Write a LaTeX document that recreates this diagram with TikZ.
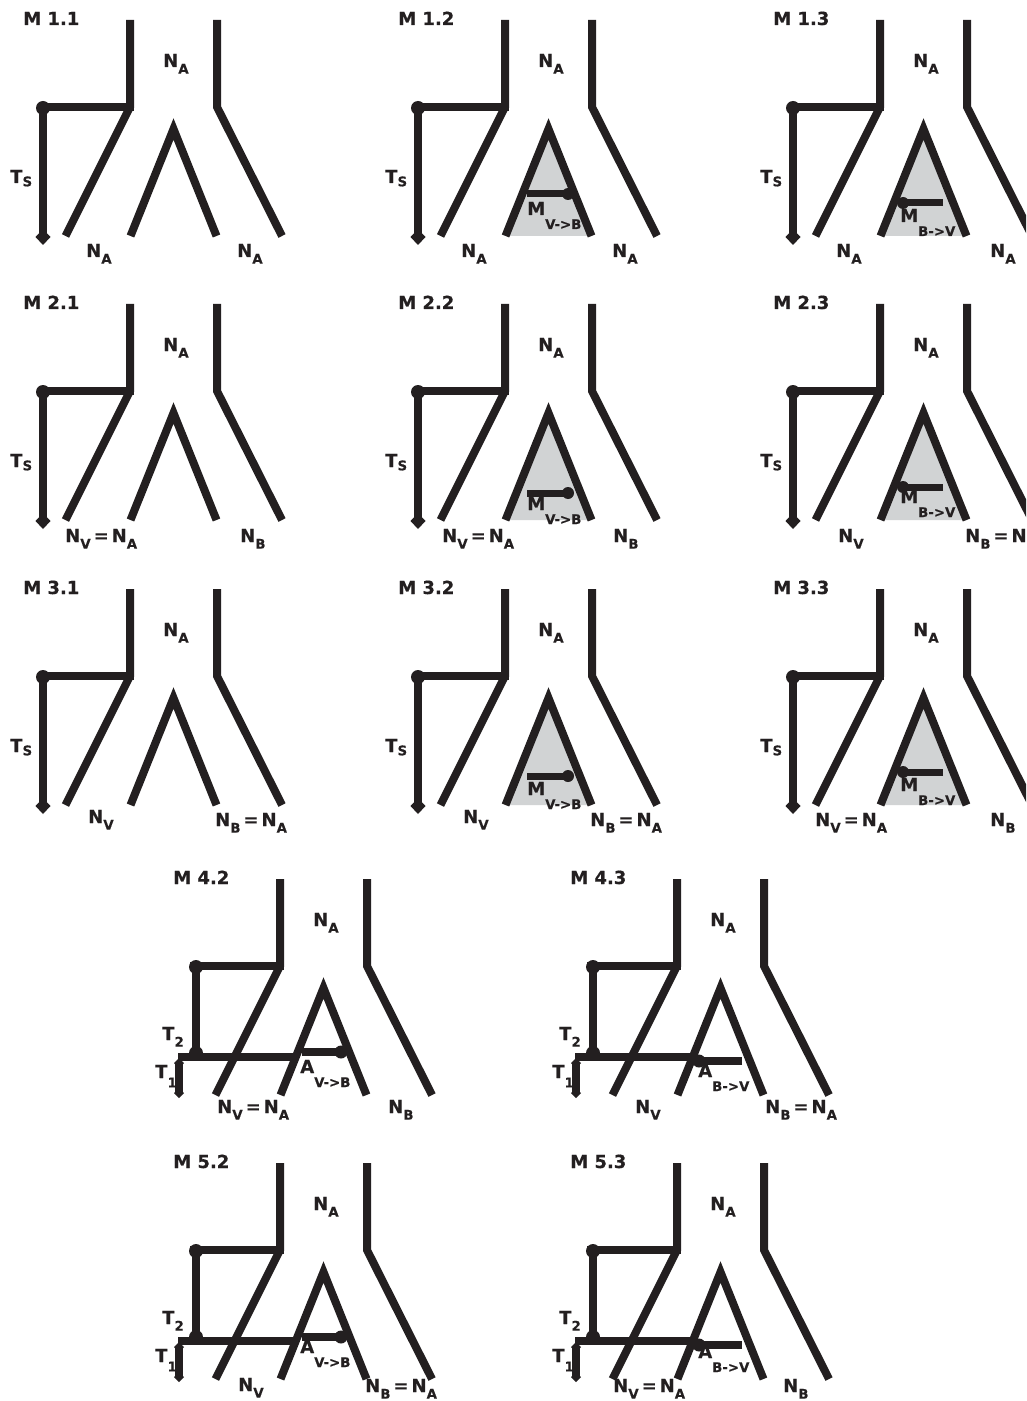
\documentclass[tikz,border=0pt]{standalone}
\usepackage{fontspec}
\setmainfont{DejaVu Sans}[BoldFeatures={FakeBold=0.4}]
\definecolor{shadegray}{RGB}{209,211,212}
\definecolor{ink}{RGB}{35,31,32}
\newcommand\sdown[2]{\raisebox{-#1}{\fontsize{10pt}{10pt}\selectfont #2}}
\tikzset{
  br/.style={line width=6pt, draw=ink, line cap=butt, line join=miter},
  mig/.style={line width=5.25pt, draw=ink, line cap=butt},
  lab/.style={font=\fontsize{13.5pt}{16pt}\selectfont\bfseries, inner sep=0pt, anchor=base west, text=ink},
}
% common skeleton of a panel
\newcommand\Skel[2]{%
  \node[lab] (#1-title) at (23,25) {#2};
  \node[lab] (#1-top) at (163,67) {N\sdown{5pt}{A}};
  \coordinate (#1-l0) at (130,20);
  \coordinate (#1-l1) at (130,107);
  \coordinate (#1-l2) at (65.5,236);
  \coordinate (#1-r0) at (217,20);
  \coordinate (#1-r1) at (217,107);
  \coordinate (#1-r2) at (282,236);
  \coordinate (#1-h0) at (40,107);
  \coordinate (#1-h1) at (134,107);
  \draw[br] (#1-l0) -- (#1-l1) -- (#1-l2);
  \draw[br] (#1-r0) -- (#1-r1) -- (#1-r2);
  \draw[br] (#1-h0) -- (#1-h1);
}
\newcommand\ShadeTri{\fill[shadegray] (130.5,236) -- (173.5,129) -- (216.5,236) -- cycle;}
\newcommand\InnerTri[1]{%
  \coordinate (#1-i0) at (130.5,236);
  \coordinate (#1-i1) at (173.5,129);
  \coordinate (#1-i2) at (216.5,236);
  \draw[br] (#1-i0) -- (#1-i1) -- (#1-i2);
}
\newcommand\TsBar[1]{%
  \coordinate (#1-ts1) at (43,108);
  \coordinate (#1-ts2) at (43,236);
  \draw[br] (#1-ts1) -- (#1-ts2);
  \fill[ink] (#1-ts1) circle (7);
  \fill[ink] (43,229) -- (50.5,237) -- (43,245) -- (35.5,237) -- cycle;
  \node[lab] (#1-ts) at (10,183) {T\sdown{2.5pt}{S}};
}
% migration arrows in shaded triangle
\newcommand\MigVB[3]{%
  \coordinate (#1-m1) at (152,#2);
  \coordinate (#1-m2) at (193,#2);
  \draw[mig] (#1-m1) -- (#1-m2);
  \fill[ink] (#1-m2) circle (6);
  \node[lab] (#1-ml) at (152,#3) {M\sdown{10.5pt}{V->B}};
}
\newcommand\MigBV[3]{%
  \coordinate (#1-m1) at (193,#2);
  \coordinate (#1-m2) at (153,#2);
  \draw[mig] (#1-m1) -- (#1-m2);
  \fill[ink] (#1-m2) circle (6);
  \node[lab] (#1-ml) at (150,#3) {M\sdown{10.5pt}{B->V}};
}
% two-time bars (models 4 and 5)
\newcommand\TBars[1]{%
  \coordinate (#1-g0) at (28,198);
  \coordinate (#1-g1) at (146,198);
  \draw[br] (#1-g0) -- (#1-g1);
  \coordinate (#1-t2a) at (46,108);
  \coordinate (#1-t2b) at (46,194);
  \draw[br] (#1-t2a) -- (#1-t2b);
  \fill[ink] (#1-t2a) circle (7);
  \fill[ink] (#1-t2b) circle (7);
  \coordinate (#1-t1a) at (29,204);
  \coordinate (#1-t1b) at (29,234);
  \draw[br] (#1-t1a) -- (#1-t1b);
  \fill[ink] (29,199) -- (34,204) -- (29,209) -- (24,204) -- cycle;
  \fill[ink] (29,229) -- (34,234) -- (29,239) -- (24,234) -- cycle;
  \node[lab] (#1-t2) at (12,181) {T\sdown{5pt}{2}};
  \node[lab] (#1-t1) at (5,219) {T\sdown{7pt}{1}};
}
\newcommand\AVB[3]{%
  \coordinate (#1-a1) at (152,#2);
  \coordinate (#1-a2) at (191,#2);
  \draw[br] (#1-a1) -- (#1-a2);
  \fill[ink] (#1-a2) circle (6.5);
  \node[lab] (#1-al) at (150,#3) {A\sdown{10.5pt}{V->B}};
}
\newcommand\ABV[3]{%
  \coordinate (#1-a1) at (195,#2);
  \coordinate (#1-a2) at (152,#2);
  \draw[br] (#1-a1) -- (#1-a2);
  \fill[ink] (#1-a2) circle (6.5);
  \node[lab] (#1-al) at (151,#3) {A\sdown{10.5pt}{B->V}};
}
\newcommand\Bot[4]{\node[lab] (#1) at (#2,#3) {#4};}
\newcommand\NA{N\sdown{5pt}{A}}
\newcommand\NV{N\sdown{5pt}{V}}
\newcommand\NB{N\sdown{5pt}{B}}
\newcommand\NVA{N\sdown{5pt}{V}\,=\,N\sdown{5pt}{A}}
\newcommand\NBA{N\sdown{5pt}{B}\,=\,N\sdown{5pt}{A}}

\begin{document}
\begin{tikzpicture}[x=0.75pt,y=-0.75pt]
\useasboundingbox (0,0) rectangle (1026,1401);
\clip (0,0) rectangle (1026,1401);
\fill[white] (0,0) rectangle (1026,1401);

% ---------- Row 1 ----------
\begin{scope}[shift={(0,0)}]
  \Skel{p11}{M 1.1}\InnerTri{p11}\TsBar{p11}
  \Bot{p11-b1}{86}{257}{\NA}\Bot{p11-b2}{237}{257}{\NA}
\end{scope}
\begin{scope}[shift={(375,0)}]
  \ShadeTri\Skel{p12}{M 1.2}\InnerTri{p12}\TsBar{p12}
  \MigVB{p12}{194}{215}
  \Bot{p12-b1}{86}{257}{\NA}\Bot{p12-b2}{237}{257}{\NA}
\end{scope}
\begin{scope}[shift={(750,0)}]
  \ShadeTri\Skel{p13}{M 1.3}\InnerTri{p13}\TsBar{p13}
  \MigBV{p13}{203}{222}
  \Bot{p13-b1}{86}{257}{\NA}\Bot{p13-b2}{240}{257}{\NA}
\end{scope}

% ---------- Row 2 ----------
\begin{scope}[shift={(0,284)}]
  \Skel{p21}{M 2.1}\InnerTri{p21}\TsBar{p21}
  \Bot{p21-b1}{65}{258}{\NVA}\Bot{p21-b2}{240}{258}{\NB}
\end{scope}
\begin{scope}[shift={(375,284)}]
  \ShadeTri\Skel{p22}{M 2.2}\InnerTri{p22}\TsBar{p22}
  \MigVB{p22}{209}{226}
  \Bot{p22-b1}{67}{258}{\NVA}\Bot{p22-b2}{238}{258}{\NB}
\end{scope}
\begin{scope}[shift={(750,284)}]
  \ShadeTri\Skel{p23}{M 2.3}\InnerTri{p23}\TsBar{p23}
  \MigBV{p23}{203}{219}
  \Bot{p23-b1}{88}{258}{\NV}\Bot{p23-b2}{215}{258}{\NBA}
\end{scope}

% ---------- Row 3 ----------
\begin{scope}[shift={(0,569)}]
  \Skel{p31}{M 3.1}\InnerTri{p31}\TsBar{p31}
  \Bot{p31-b1}{88}{254}{\NV}\Bot{p31-b2}{215}{257}{\NBA}
\end{scope}
\begin{scope}[shift={(375,569)}]
  \ShadeTri\Skel{p32}{M 3.2}\InnerTri{p32}\TsBar{p32}
  \MigVB{p32}{207}{226}
  \Bot{p32-b1}{88}{254}{\NV}\Bot{p32-b2}{215}{257}{\NBA}
\end{scope}
\begin{scope}[shift={(750,569)}]
  \ShadeTri\Skel{p33}{M 3.3}\InnerTri{p33}\TsBar{p33}
  \MigBV{p33}{203}{222}
  \Bot{p33-b1}{65}{257}{\NVA}\Bot{p33-b2}{240}{257}{\NB}
\end{scope}

% ---------- Row 4 ----------
\begin{scope}[shift={(150,859)}]
  \Skel{p42}{M 4.2}\InnerTri{p42}\TBars{p42}
  \AVB{p42}{193}{214}
  \Bot{p42-b1}{67}{254}{\NVA}\Bot{p42-b2}{238}{254}{\NB}
\end{scope}
\begin{scope}[shift={(547,859)}]
  \Skel{p43}{M 4.3}\InnerTri{p43}\TBars{p43}
  \ABV{p43}{202}{218}
  \Bot{p43-b1}{88}{254}{\NV}\Bot{p43-b2}{218}{254}{\NBA}
\end{scope}

% ---------- Row 5 ----------
\begin{scope}[shift={(150,1143)}]
  \Skel{p52}{M 5.2}\InnerTri{p52}\TBars{p52}
  \AVB{p52}{194}{210}
  \Bot{p52-b1}{88}{248}{\NV}\Bot{p52-b2}{215}{249}{\NBA}
\end{scope}
\begin{scope}[shift={(547,1143)}]
  \Skel{p53}{M 5.3}\InnerTri{p53}\TBars{p53}
  \ABV{p53}{202}{215}
  \Bot{p53-b1}{66}{249}{\NVA}\Bot{p53-b2}{236}{249}{\NB}
\end{scope}
\end{tikzpicture}
\end{document}
